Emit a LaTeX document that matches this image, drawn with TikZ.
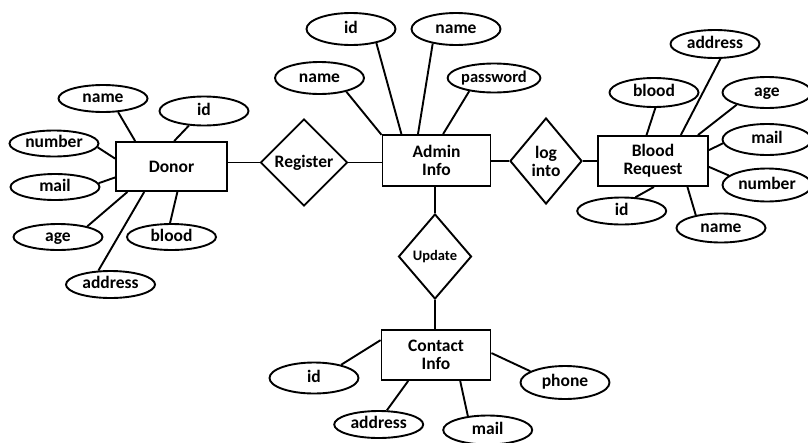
\documentclass[tikz,border=0pt]{standalone}
\usepackage{fontspec}
\setmainfont{Carlito}
\usetikzlibrary{shapes.geometric}

\begin{document}
\begin{tikzpicture}[x=1pt,y=1pt,yscale=-1,xscale=1,
	line width=1.9pt,
	font=\fontsize{17.5}{18}\selectfont\bfseries,
	entity/.style={draw,rectangle,inner sep=0pt,align=center},
	attrib/.style={draw,ellipse,minimum width=89pt,minimum height=29pt,inner sep=0pt,text height=12pt,text depth=4pt},
	relation/.style={draw,diamond,aspect=1,inner sep=0pt,align=center}]
	\useasboundingbox (0,0) rectangle (808,442);
	
	%Shape: Rectangle [entities]
	\node [entity,minimum width=111pt,minimum height=49pt] (donor) at (171.5,166.5) {Donor};
	\node [entity,minimum width=108pt,minimum height=51pt] (admin) at (436.5,160.5) {Admin\\Info};
	\node [entity,minimum width=110pt,minimum height=50pt] (request) at (653,161) {Blood\\Request};
	\node [entity,minimum width=109pt,minimum height=50pt] (contact) at (436,355) {Contact\\Info};
	
	%Shape: Diamond [relations]
	\node [relation,minimum width=87pt,minimum height=87pt] (register) at (304,162.5) {Register};
	\node [relation,minimum width=72pt,minimum height=86pt] (login) at (546,161) {log\\into};
	\node [relation,minimum width=73pt,minimum height=85pt,font=\fontsize{14.5}{16}\selectfont\bfseries] (update) at (435,256.5) {Update};
	
	%Straight Lines [relations]
	\draw (register.west) -- (register.west -| donor.east);
	\draw (register.east) -- (register.east -| admin.west);
	\draw (login.west) -- (login.west -| admin.east);
	\draw (login.east) -- (login.east -| request.west);
	\draw (update.north) -- (update.north |- admin.south);
	\draw (update.south) -- (update.south |- contact.north);
	
	%Shape: Ellipse [donor]
	\node [attrib,minimum height=27pt] (dname) at (103,98.5) {name};
	\node [attrib] (did) at (204,111) {id};
	\node [attrib,minimum height=26pt] (dnumber) at (54,143.5) {number};
	\node [attrib,minimum height=26pt] (dmail) at (55,187) {mail};
	\node [attrib,minimum height=26pt] (dage) at (58,237) {age};
	\node [attrib,minimum height=26pt] (dblood) at (171.5,237) {blood};
	\node [attrib,minimum height=27pt] (daddress) at (110.5,284.5) {address};
	\draw (dname.318) -- (donor.145);
	\draw (did.224) -- (donor.84);
	\draw (dnumber.355) -- (donor.172);
	\draw (dmail.5) -- (donor.191);
	\draw (dage.20) -- (donor.210);
	\draw (daddress.131) -- (donor.223);
	\draw (dblood.96) -- (donor.283);
	
	%Shape: Ellipse [admin]
	\node [attrib,minimum height=32pt] (aid) at (351,29) {id};
	\node [attrib,minimum height=32pt] (aname) at (456,29) {name};
	\node [attrib,minimum height=32pt] (aname2) at (319.5,78) {name};
	\node [attrib,font=\fontsize{16.5}{17}\selectfont\bfseries] (apass) at (494,78) {password};
	\draw (aname2.333) -- (admin.155);
	\draw (aid.331) -- (admin.143);
	\draw (aname.212) -- (admin.125);
	\draw (apass.208) -- (admin.76);
	
	%Shape: Ellipse [blood request]
	\node [attrib,minimum height=28pt] (raddress) at (715,44) {address};
	\node [attrib] (rblood) at (654,92.5) {blood};
	\node [attrib,minimum height=31pt] (rage) at (767,92.5) {age};
	\node [attrib,minimum height=31pt] (rmail) at (767,139.5) {mail};
	\node [attrib,minimum height=33pt] (rnumber) at (767,185) {number};
	\node [attrib,minimum height=27pt] (rid) at (621.7,211) {id};
	\node [attrib] (rname) at (721,228) {name};
	\draw (raddress.290) -- (request.43);
	\draw (rblood.275) -- (request.104);
	\draw (rage.202) -- (request.30);
	\draw (rmail.185) -- (request.11);
	\draw (rnumber.166) -- (request.354);
	\draw (rid.45) -- (request.272);
	\draw (rname.153) -- (request.323);
	
	%Shape: Ellipse [contact]
	\node [attrib,minimum height=31pt] (cid) at (314,378) {id};
	\node [attrib,minimum height=27pt] (caddress) at (378.7,424.5) {address};
	\node [attrib] (cmail) at (487.7,430) {mail};
	\node [attrib,minimum height=33pt] (cphone) at (565,382.5) {phone};
	\draw (cid.26) -- (contact.165);
	\draw (caddress.60) -- (contact.223);
	\draw (cmail.145) -- (contact.313);
	\draw (cphone.162) -- (contact.2);
	
\end{tikzpicture}
\end{document}
